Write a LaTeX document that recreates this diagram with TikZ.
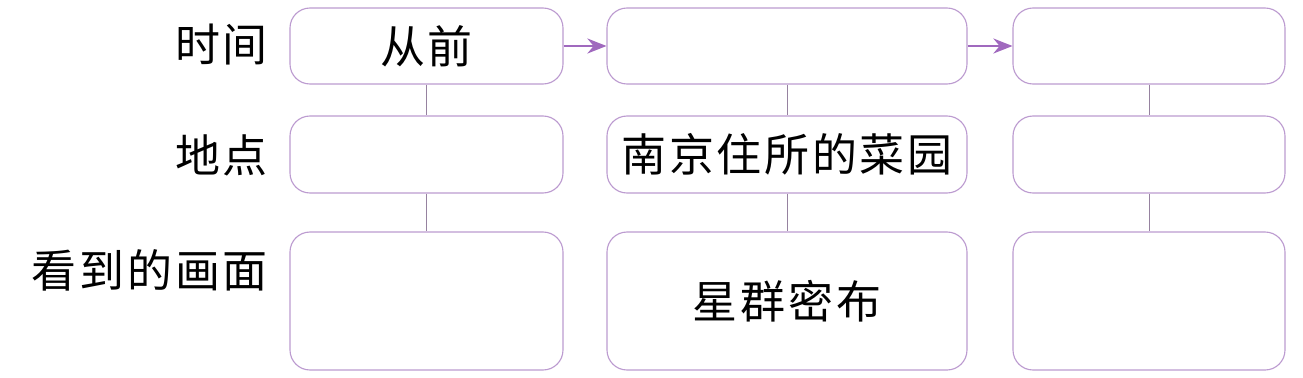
\documentclass[tikz,border=0pt]{standalone}
\usepackage{fontspec}
\newfontfamily\cjk{Noto Sans CJK SC}[LetterSpace=6]
\usepackage{xcolor}
\usetikzlibrary{arrows.meta, positioning}

\definecolor{boxline}{RGB}{188,155,208}
\definecolor{arrowline}{RGB}{160,105,190}
\definecolor{linkline}{RGB}{150,130,160}

\begin{document}
\begin{tikzpicture}[
    font=\cjk\fontsize{32}{36}\selectfont,
    cell/.style={rectangle, draw=boxline, line width=0.8pt, rounded corners=0.5cm, inner sep=0pt},
    colA/.style={cell, minimum width=6.825cm},
    colB/.style={cell, minimum width=9.0cm},
    colC/.style={cell, minimum width=6.8cm},
    rowT/.style={minimum height=1.9cm},
    rowP/.style={minimum height=1.925cm},
    rowV/.style={minimum height=3.45cm},
    flow/.style={-{Stealth[length=4.8mm, width=3.8mm, inset=1.6mm]}, line width=0.8pt, draw=arrowline},
    link/.style={line width=0.6pt, draw=linkline},
    label/.style={anchor=east, inner sep=0pt}
]
    \useasboundingbox (0,0) rectangle (32.575,-9.425);

    % Row labels
    \node[label] (lt) at (6.7,-1.125) {时间};
    \node[label] (lp) at (6.7,-3.875) {地点};
    \node[label] (lv) at (6.7,-6.75) {看到的画面};

    % Time
    \node[colA, rowT] (t1) at (10.6625,-1.15) {从前};
    \node[colB, rowT] (t2) at (19.675,-1.15) {};
    \node[colC, rowT] (t3) at (28.725,-1.15) {};

    % Place
    \node[colA, rowP] (p1) at (10.6625,-3.8625) {};
    \node[colB, rowP] (p2) at (19.675,-3.8625) {南京住所的菜园};
    \node[colC, rowP] (p3) at (28.725,-3.8625) {};

    % View
    \node[colA, rowV] (v1) at (10.6625,-7.525) {};
    \node[colB, rowV] (v2) at (19.675,-7.525) {星群密布};
    \node[colC, rowV] (v3) at (28.725,-7.525) {};

    % Arrows
    \draw[flow] (t1.east) -- (t2.west);
    \draw[flow] (t2.east) -- (t3.west);

    % Links
    \foreach \c in {1,2,3} {
        \draw[link] (t\c.south) -- (p\c.north);
        \draw[link] (p\c.south) -- (v\c.north);
    }
\end{tikzpicture}
\end{document}
